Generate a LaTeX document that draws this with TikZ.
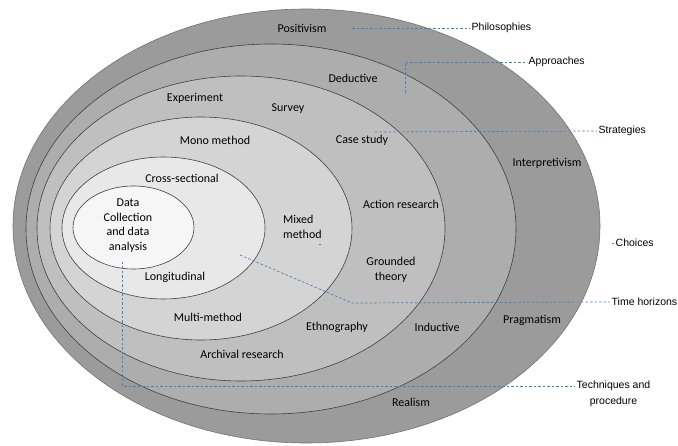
\documentclass[tikz,border=0pt]{standalone}
\usepackage{fontspec}
\setmainfont{Carlito}
\newfontfamily\sidefont{Liberation Sans}
\definecolor{philfill}{HTML}{9B9B9B}
\definecolor{apprfill}{HTML}{ADADAD}
\definecolor{stratfill}{HTML}{BFBFBF}
\definecolor{choifill}{HTML}{D4D4D4}
\definecolor{timefill}{HTML}{E8E8E8}
\definecolor{datafill}{HTML}{F6F6F6}
\definecolor{linkblue}{HTML}{4A7EBB}
\begin{document}
\begin{tikzpicture}[x=1pt,y=-1pt,
  layer/.style={draw=black!75,line width=0.6pt},
  lbl/.style={font=\fontsize{12}{14.5}\selectfont,align=center,inner sep=0pt},
  side/.style={font=\sidefont\fontsize{10.5}{16}\selectfont,align=center,anchor=west,inner sep=1.5pt},
  link/.style={draw=linkblue,dash pattern=on 2.5pt off 2pt,line width=0.7pt}]
\useasboundingbox (0,0) rectangle (678,446);
% layers of the onion
\draw[layer,draw=black!55,fill=philfill] (306.5,226) ellipse [x radius=293.5, y radius=217];
\draw[layer,fill=apprfill] (271,229) ellipse [x radius=245, y radius=185];
\draw[layer,fill=stratfill] (241,228.5) ellipse [x radius=204, y radius=152.5];
\draw[layer,fill=choifill] (201,228.5) ellipse [x radius=151, y radius=111.5];
\draw[layer,fill=timefill] (163.5,228) ellipse [x radius=101.5, y radius=71];
\draw[layer,fill=datafill] (133.5,227.5) ellipse [x radius=60.5, y radius=41.5];
% labels inside
\node[lbl] (pos) at (302,28) {Positivism};
\node[lbl] (ded) at (353,78) {Deductive};
\node[lbl] (exp) at (195,98) {Experiment};
\node[lbl] (sur) at (288,109) {Survey};
\node[lbl] (mono) at (215,140) {Mono method};
\node[lbl] (case) at (362,140) {Case study};
\node[lbl] (interp) at (547,163) {Interpretivism};
\node[lbl] (cross) at (182,178) {Cross-sectional};
\node[lbl] (data) at (128,225.5) {Data\\Collection\\and data\\analysis};
\node[lbl,align=left,anchor=west] (mixed) at (283,227) {Mixed\\method};
\node[lbl] (action) at (401,204) {Action research};
\node[lbl] (grounded) at (391,270) {Grounded\\theory};
\node[lbl] (longi) at (175,277) {Longitudinal};
\node[lbl] (multi) at (208,317) {Multi-method};
\node[lbl] (ethno) at (337,327) {Ethnography};
\node[lbl] (induct) at (437,327) {Inductive};
\node[lbl] (prag) at (532,320) {Pragmatism};
\node[lbl] (archiv) at (242,354) {Archival research};
\node[lbl] (real) at (411,402) {Realism};
% labels at the side
\node[side] (phil) at (470,28) {Philosophies};
\node[side] (appr) at (527,62) {Approaches};
\node[side] (strat) at (597,131) {Strategies};
\node[side] (choi) at (614,243) {Choices};
\node[side] (timeh) at (610,302) {Time horizons};
\node[side] (tech) at (575,394) {Techniques and\\procedure};
% dashed links
\coordinate (philstart) at (352,28);
\coordinate (apprstart) at (405,93);
\coordinate (stratstart) at (375,132);
\coordinate (choistart) at (319,244);
\coordinate (timestart) at (240,255);
\coordinate (timebend) at (352,303);
\coordinate (techstart) at (122,262);
\draw[link] (philstart) -- (phil.west);
\draw[link] (apprstart) |- (appr.west);
\draw[link] (stratstart) -- (strat.west);
\draw[link] (choistart) -- ++(1.5,0);
\draw[link] ([xshift=-2pt]choi.west) -- (choi.west);
\draw[link] (timestart) -- (timebend) -- (timeh.west);
\draw[link] (techstart) |- ([yshift=8pt]tech.west);
\end{tikzpicture}
\end{document}
